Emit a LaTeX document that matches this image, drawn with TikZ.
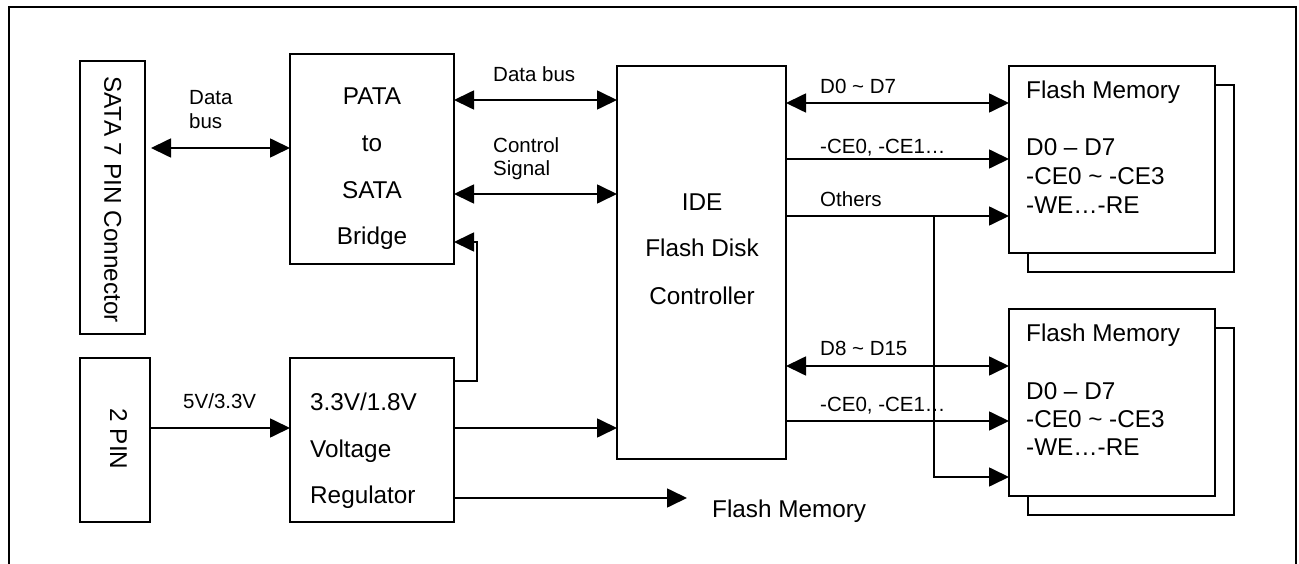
\documentclass[tikz,border=0pt]{standalone}
\usepackage{fontspec}
\setmainfont{Liberation Sans}
\usetikzlibrary{arrows.meta}
\begin{document}
\begin{tikzpicture}[x=1pt,y=-1pt,
  box/.style={draw, line width=1.7pt, fill=white, inner sep=0pt, outer sep=0pt, anchor=north west},
  big/.style={font=\fontsize{24.3}{28}\selectfont, inner sep=0pt},
  small/.style={font=\fontsize{20.5}{23}\selectfont, inner sep=0pt},
  wire/.style={line width=1.7pt},
  tip/.style={-{Triangle[length=20pt,width=19pt]}},
  bi/.style={{Triangle[length=20pt,width=19pt]}-{Triangle[length=20pt,width=19pt]}}]
\useasboundingbox (0,0) rectangle (1299,564);
\draw[line width=1.8pt] (9,564) -- (9,7) -- (1296,7) -- (1296,564);

% boxes
\node[box, minimum width=65pt, minimum height=273pt] (sata) at (80,61) {};
\node[box, minimum width=70pt, minimum height=164pt] (pin) at (80,358) {};
\node[box, minimum width=164pt, minimum height=210pt] (bridge) at (290,54) {};
\node[box, minimum width=164pt, minimum height=164pt] (reg) at (290,358) {};
\node[box, minimum width=169pt, minimum height=393pt] (ide) at (617,66) {};
\node[box, minimum width=206pt, minimum height=187pt] (fmAsh) at (1028,85) {};
\node[box, minimum width=206pt, minimum height=187pt] (fmA) at (1009,66) {};
\node[box, minimum width=206pt, minimum height=187pt] (fmBsh) at (1028,328) {};
\node[box, minimum width=206pt, minimum height=187pt] (fmB) at (1009,309) {};

% box texts
\node[big, rotate=-90, anchor=base] (satat) at (104.3,199.5) {SATA 7 PIN Connector};
\node[big, rotate=-90, anchor=base] (pint) at (110,439) {2 PIN};
\node[big, anchor=base] (br1) at (372,105) {PATA};
\node[big, anchor=base] (br2) at (372,151.7) {to};
\node[big, anchor=base] (br3) at (372,198.3) {SATA};
\node[big, anchor=base] (br4) at (372,245) {Bridge};
\node[big, anchor=base west] (rg1) at (310,410) {3.3V/1.8V};
\node[big, anchor=base west] (rg2) at (310,457.3) {Voltage};
\node[big, anchor=base west] (rg3) at (310,503.3) {Regulator};
\node[big, anchor=base] (id1) at (702,210.7) {IDE};
\node[big, anchor=base] (id2) at (702,256.7) {Flash Disk};
\node[big, anchor=base] (id3) at (702,304.3) {Controller};
\node[big, anchor=base west] (fa1) at (1026,99) {Flash Memory};
\node[big, anchor=base west] (fa2) at (1026,156) {D0 – D7};
\node[big, anchor=base west] (fa3) at (1026,185) {-CE0 \textasciitilde{} -CE3};
\node[big, anchor=base west] (fa4) at (1026,213.3) {-WE…-RE};
\node[big, anchor=base west] (fb1) at (1026,341.7) {Flash Memory};
\node[big, anchor=base west] (fb2) at (1026,399.3) {D0 – D7};
\node[big, anchor=base west] (fb3) at (1026,427.7) {-CE0 \textasciitilde{} -CE3};
\node[big, anchor=base west] (fb4) at (1026,455.7) {-WE…-RE};
\node[big, anchor=base west] (fmt) at (712,517.3) {Flash Memory};

% connector labels
\node[small, anchor=base west] (l1a) at (189,105) {Data};
\node[small, anchor=base west] (l1b) at (189,128.3) {bus};
\node[small, anchor=base west] (l2) at (493,81.7) {Data bus};
\node[small, anchor=base west] (l3a) at (493,152.7) {Control};
\node[small, anchor=base west] (l3b) at (493,176) {Signal};
\node[small, anchor=base] (l4) at (219.7,408.3) {5V/3.3V};
\node[small, anchor=base west] (l5) at (820,93.3) {D0 \textasciitilde{} D7};
\node[small, anchor=base west] (l6) at (820,153.3) {-CE0, -CE1…};
\node[small, anchor=base west] (l7) at (820,206.7) {Others};
\node[small, anchor=base west] (l8) at (820,355) {D8 \textasciitilde{} D15};
\node[small, anchor=base west] (l9) at (820,411.7) {-CE0, -CE1…};

% connectors
\coordinate (bend) at (477,242);
\coordinate (fmend) at (687,498);
\coordinate (branch) at (934,216);
\coordinate (branchlow) at (934,477);

\draw[wire,bi,shorten <=6pt] (sata.east |- 0,148) -- (bridge.west |- 0,148);
\draw[wire,bi] (bridge.east |- 0,100) -- (ide.west |- 0,100);
\draw[wire,bi] (bridge.east |- 0,194) -- (ide.west |- 0,194);
\draw[wire,tip] (reg.east |- 0,381) -| (bend) -- (bridge.east |- bend);
\draw[wire,tip] (reg.east |- 0,428) -- (ide.west |- 0,428);
\draw[wire,tip] (reg.east |- fmend) -- (fmend);
\draw[wire,tip] (pin.east |- 0,428) -- (reg.west |- 0,428);

\draw[wire,bi] (ide.east |- 0,103) -- (fmA.west |- 0,103);
\draw[wire,tip] (ide.east |- 0,159) -- (fmA.west |- 0,159);
\draw[wire,tip] (ide.east |- branch) -- (fmA.west |- branch);
\draw[wire,tip] (branch) -- (branchlow) -- (fmB.west |- branchlow);
\draw[wire,bi] (ide.east |- 0,366) -- (fmB.west |- 0,366);
\draw[wire,tip] (ide.east |- 0,421) -- (fmB.west |- 0,421);
\end{tikzpicture}
\end{document}
